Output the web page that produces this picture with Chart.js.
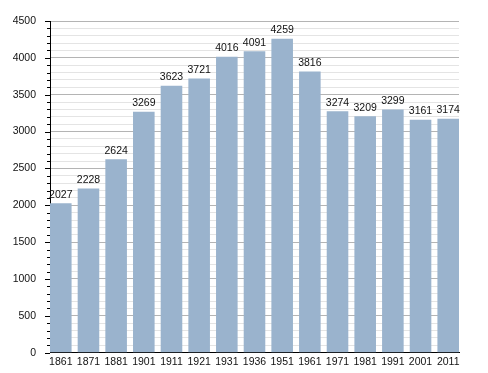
<!DOCTYPE html>
<html>
<head>
<meta charset="utf-8">
<script src="https://cdn.jsdelivr.net/npm/chart.js@4"></script>
<style>
  body { margin: 0; background: #fff; }
  #pop { display: block; }
</style>
</head>
<body>
<canvas id="pop" width="488" height="373"></canvas>
<script>
const years = ['1861', '1871', '1881', '1901', '1911', '1921', '1931', '1936', '1951', '1961', '1971', '1981', '1991', '2001', '2011'];
const population = [2027, 2228, 2624, 3269, 3623, 3721, 4016, 4091, 4259, 3816, 3274, 3209, 3299, 3161, 3174];
const yTicks = [0, 500, 1000, 1500, 2000, 2500, 3000, 3500, 4000, 4500];

const barColor = '#9ab3cd';
const font = { family: 'Liberation Sans, Arial, sans-serif', size: 10.5 };

// y ticks (long for labelled, short for minor) + value labels over the bars
const extras = {
  id: 'extras',
  afterDraw(chart) {
    const ctx = chart.ctx;
    const y = chart.scales.y;
    const left = chart.chartArea.left;
    ctx.save();
    ctx.strokeStyle = '#000';
    ctx.lineWidth = 1;
    y.ticks.forEach(t => {
      const py = Math.round(y.getPixelForValue(t.value)) + 0.5;
      const len = yTicks.includes(t.value) ? 5 : 3;
      ctx.beginPath();
      ctx.moveTo(left - len, py);
      ctx.lineTo(left, py);
      ctx.stroke();
    });

    ctx.fillStyle = '#111';
    ctx.font = font.size + 'px ' + font.family;
    ctx.textAlign = 'center';
    ctx.textBaseline = 'bottom';
    chart.getDatasetMeta(0).data.forEach((bar, i) => {
      ctx.fillText(String(population[i]), bar.x, bar.y - 3);
    });
    ctx.restore();
  }
};

new Chart(document.getElementById('pop'), {
  type: 'bar',
  data: {
    datasets: [{
      data: population.map((v, i) => ({ x: i, y: v })),
      backgroundColor: barColor,
      borderWidth: 0,
      categoryPercentage: 1,
      barPercentage: 0.78
    }]
  },
  options: {
    responsive: false,
    animation: false,
    layout: { padding: { top: 21, right: 29, bottom: 0, left: 0 } },
    plugins: { legend: { display: false }, tooltip: { enabled: false } },
    scales: {
      x: {
        type: 'linear',
        offset: false,
        min: -0.39,
        max: 14.39,
        afterBuildTicks: s => { s.ticks = years.map((_, i) => ({ value: i })); },
        afterFit: s => { s.height = 20; },
        grid: { display: false, drawTicks: false, offset: false },
        border: { color: '#000', width: 1 },
        ticks: {
          autoSkip: false,
          maxRotation: 0,
          padding: 3,
          color: '#111',
          font: font,
          callback: v => years[v]
        }
      },
      y: {
        min: 0,
        max: 4500,
        afterFit: s => { s.width = 50; },
        grid: {
          drawTicks: false,
          color: c => (c.tick && c.tick.value % 500 === 0) ? '#b4b4b4' : '#e4e4e4'
        },
        border: { color: '#000', width: 1 },
        ticks: {
          stepSize: 100,
          maxTicksLimit: 100,
          autoSkip: false,
          padding: 14,
          color: '#111',
          font: font,
          callback: v => yTicks.includes(v) ? String(v) : ''
        }
      }
    }
  },
  plugins: [extras]
});
</script>
</body>
</html>
